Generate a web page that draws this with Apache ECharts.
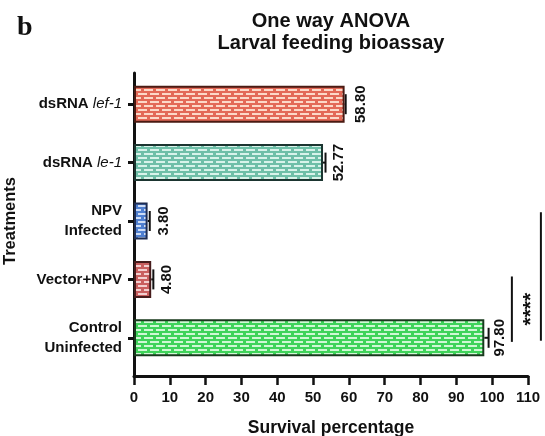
<!DOCTYPE html>
<html>
<head>
<meta charset="utf-8">
<script src="https://cdn.jsdelivr.net/npm/echarts@6/dist/echarts.min.js"></script>
<style>
  html, body { margin: 0; padding: 0; background: #fff; }
  #chart { width: 545px; height: 436px; }
</style>
</head>
<body>
<div id="chart"></div>
<script>
// data
const categories = ['dsRNA lef-1', 'dsRNA le-1', 'NPV\nInfected', 'Vector+NPV', 'Control\nUninfected'];
const survival = [58.80, 52.77, 3.80, 4.80, 97.80];
const survivalErr = [0.3, 0.7, 0.6, 0.6, 1.2];
const xMin = 0;
const xMax = 110;
const xStep = 10;

// significance brackets (x in % units, from/to in category units)
const sigX = [105.5, 113.6];
const sigFrom = [2.95, 1.85];
const sigTo = [4.07, 4.05];
const sigText = '****';
const sigTextX = 111.0;

// brick fill colours: [mortar, brick, border]
const barColors = [
  ['#e36a58', '#fcd9c9', '#4a1a12'],
  ['#6fbfa8', '#d8f3ea', '#1b3530'],
  ['#4f7fd0', '#cddcf6', '#1d2b50'],
  ['#c95f5f', '#f3cfcf', '#461c1c'],
  ['#3fd35a', '#d0f8d5', '#183a1d'],
];

const FONT = 'Arial, "Liberation Sans", Helvetica, sans-serif';
const INK = '#111';

function brickPattern(mortar, brick) {
  const c = document.createElement('canvas');
  c.width = 12;
  c.height = 8;
  const ctx = c.getContext('2d');
  ctx.fillStyle = mortar;
  ctx.fillRect(0, 0, 12, 8);
  ctx.fillStyle = brick;
  // two staggered rows of bricks
  ctx.fillRect(0, 1, 9, 2);
  ctx.fillRect(6, 5, 6, 2);
  ctx.fillRect(0, 5, 3, 2);
  return { image: c, repeat: 'repeat' };
}

const chart = echarts.init(document.getElementById('chart'));

const barData = survival.map((v, i) => ({
  value: v,
  itemStyle: {
    color: brickPattern(barColors[i][0], barColors[i][1]),
    borderColor: barColors[i][2],
    borderWidth: 2,
  },
}));

const errData = survival.map((v, i) => [v, i, survivalErr[i]]);
// dim 1 stays on category 0; the real span is in dims 2 and 3
const sigData = sigX.map((x, i) => [x, 0, sigFrom[i], sigTo[i]]);

const option = {
  animation: false,
  graphic: [
    {
      type: 'text', x: 17, y: 28,
      style: { text: 'b', font: 'bold 28px "Liberation Serif", "Times New Roman", serif', fill: INK, verticalAlign: 'middle' },
    },
    {
      type: 'text', x: 331, y: 21,
      style: { text: 'One way ANOVA', font: 'bold 20px ' + FONT, fill: INK, align: 'center', verticalAlign: 'middle' },
    },
    {
      type: 'text', x: 331, y: 43,
      style: { text: 'Larval feeding bioassay', font: 'bold 20px ' + FONT, fill: INK, align: 'center', verticalAlign: 'middle' },
    },
  ],
  grid: [
    { left: 134, right: 17, top: 75, bottom: 69, containLabel: false, outerBoundsMode: 'none' },   // bars
    { left: 134, right: 17, top: 73, bottom: 60, containLabel: false, outerBoundsMode: 'none' },   // axis frame
  ],
  xAxis: [
    {
      gridIndex: 0, type: 'value', min: xMin, max: xMax, interval: xStep,
      show: false,
    },
    {
      gridIndex: 1, type: 'value', min: xMin, max: xMax, interval: xStep,
      axisLine: { show: true, lineStyle: { color: INK, width: 3 } },
      axisTick: { show: true, length: 9, lineStyle: { color: INK, width: 2.5 } },
      axisLabel: { color: INK, fontSize: 15, fontWeight: 'bold', fontFamily: FONT, margin: 14 },
      splitLine: { show: false },
      name: 'Survival percentage',
      nameLocation: 'middle',
      nameGap: 43,
      nameTextStyle: { color: INK, fontSize: 17.5, fontWeight: 'bold', fontFamily: FONT },
    },
  ],
  yAxis: [
    {
      gridIndex: 0, type: 'category', data: categories, inverse: true,
      axisLine: { show: false },
      axisTick: { show: true, alignWithLabel: true, length: 6, lineStyle: { color: INK, width: 3 } },
      axisLabel: {
        color: INK, fontSize: 15, fontWeight: 'bold', fontFamily: FONT, margin: 12, lineHeight: 20,
        formatter: val => val.startsWith('dsRNA ') ? '{b|dsRNA }{i|' + val.slice(6) + '}' : val,
        rich: {
          b: { color: INK, fontSize: 15, fontWeight: 'bold', fontFamily: FONT },
          i: { color: INK, fontSize: 15, fontWeight: 'normal', fontStyle: 'italic', fontFamily: FONT },
        },
      },
      name: 'Treatments',
      nameLocation: 'middle',
      nameGap: 115,
      nameRotate: 90,
      nameTextStyle: { color: INK, fontSize: 16.5, fontWeight: 'bold', fontFamily: FONT },
    },
    {
      gridIndex: 1, type: 'value', min: 0, max: 1,
      axisLine: { show: true, lineStyle: { color: INK, width: 3 } },
      axisTick: { show: false },
      axisLabel: { show: false },
      splitLine: { show: false },
    },
  ],
  series: [
    {
      type: 'bar',
      xAxisIndex: 0, yAxisIndex: 0,
      barWidth: 37,
      data: barData,
    },
    {
      // error whiskers + value labels
      type: 'custom',
      xAxisIndex: 0, yAxisIndex: 0,
      clip: false,
      data: errData,
      renderItem: (params, api) => {
        const v = api.value(0);
        const idx = api.value(1);
        const e = api.value(2);
        const p0 = api.coord([v, idx]);
        const p1 = api.coord([v + e, idx]);
        const style = { stroke: INK, lineWidth: 2 };
        return {
          type: 'group',
          children: [
            { type: 'line', shape: { x1: p0[0], y1: p0[1], x2: p1[0], y2: p1[1] }, style },
            { type: 'line', shape: { x1: p1[0], y1: p1[1] - 10, x2: p1[0], y2: p1[1] + 10 }, style },
            {
              type: 'text', x: p0[0] + 16, y: p0[1], rotation: Math.PI / 2,
              style: {
                text: v.toFixed(2), fill: INK, font: 'bold 15px ' + FONT,
                align: 'center', verticalAlign: 'middle',
              },
            },
          ],
        };
      },
    },
    {
      // significance brackets
      type: 'custom',
      xAxisIndex: 0, yAxisIndex: 0,
      clip: false,
      data: sigData,
      renderItem: (params, api) => {
        const x = api.value(0);
        const from = api.value(2);
        const to = api.value(3);
        const origin = api.coord([x, 0]);
        const band = api.size([0, 1])[1];
        const y1 = origin[1] + from * band;
        const y2 = origin[1] + to * band;
        const children = [
          { type: 'line', shape: { x1: origin[0], y1, x2: origin[0], y2 }, style: { stroke: INK, lineWidth: 2 } },
        ];
        if (params.dataIndex === 0) {
          const tx = api.coord([sigTextX, 0])[0];
          children.push({
            type: 'text', x: tx, y: (y1 + y2) / 2, rotation: Math.PI / 2,
            style: { text: sigText, fill: INK, font: 'bold 21px ' + FONT, align: 'center', verticalAlign: 'middle' },
          });
        }
        return { type: 'group', children };
      },
    },
  ],
};

chart.setOption(option);
</script>
</body>
</html>
